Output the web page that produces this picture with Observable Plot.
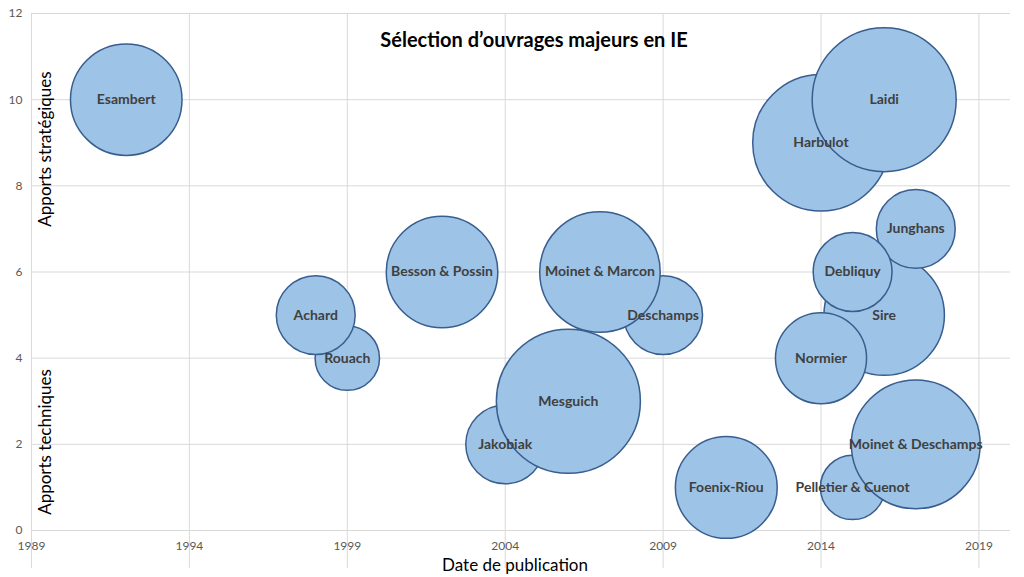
<!DOCTYPE html>
<html>
<head>
<meta charset="utf-8">
<script src="https://cdn.jsdelivr.net/npm/d3@7"></script>
<script src="https://cdn.jsdelivr.net/npm/@observablehq/plot@0.6"></script>
<style>
  html, body { margin: 0; padding: 0; background: #ffffff; }
  #chart svg { display: block; }
</style>
</head>
<body>
<div id="chart"></div>
<script>
// ---- data ----
const names = ["Esambert", "Rouach", "Achard", "Besson & Possin", "Jakobiak", "Mesguich",
  "Deschamps", "Moinet & Marcon", "Foenix-Riou", "Harbulot", "Laidi", "Sire",
  "Junghans", "Debliquy", "Normier", "Pelletier & Cuenot", "Moinet & Deschamps"];
const years = [1992, 1999, 1998, 2002, 2004, 2006, 2009, 2007, 2011, 2014, 2016, 2016,
  2017, 2015, 2014, 2015, 2017];
const scores = [10, 4, 5, 6, 2, 3, 5, 6, 1, 9, 10, 5, 7, 6, 4, 1, 2];
const sizes = [6, 2, 3, 6, 3, 10, 3, 7, 5, 9, 10, 7, 3, 3, 4, 2, 8];

const xTicks = [1989, 1994, 1999, 2004, 2009, 2014, 2019];
const yTicks = [0, 2, 4, 6, 8, 10, 12];

const title = "Sélection d’ouvrages majeurs en IE";
const xLabel = "Date de publication";
const yLabelTop = "Apports stratégiques";
const yLabelBottom = "Apports techniques";

const data = names.map((n, i) => ({name: n, year: years[i], score: scores[i], size: sizes[i]}));

const font = "Lato, 'Open Sans', sans-serif";

const chart = Plot.plot({
  width: 1024,
  height: 577,
  marginTop: 13,
  marginLeft: 31,
  marginRight: 14,
  marginBottom: 47,
  style: {fontFamily: font, background: "#ffffff"},
  x: {domain: [1989, 2020]},
  y: {domain: [0, 12]},
  r: {domain: [0, 10], range: [0, 72]},
  marks: [
    Plot.ruleY(yTicks, {stroke: "#d9d9d9", strokeWidth: 1}),
    Plot.ruleX(xTicks, {stroke: "#d9d9d9", strokeWidth: 1, insetBottom: -38}),
    Plot.axisX({ticks: xTicks, tickSize: 0, tickPadding: 11, label: null, fill: "#595959",
      fontSize: 12, tickFormat: d => String(d)}),
    Plot.axisY({ticks: yTicks, tickSize: 0, tickPadding: 9, label: null, fill: "#595959",
      fontSize: 12}),
    Plot.dot(data, {x: "year", y: "score", r: "size", sort: null, fill: "#9dc3e6", fillOpacity: 1,
      stroke: "#385d8f", strokeWidth: 1.5}),
    Plot.text(data, {x: "year", y: "score", text: "name", fill: "#404040",
      fontWeight: "bold", fontSize: 14}),
    Plot.text([title], {frameAnchor: "top", lineAnchor: "middle", dy: 27, dx: 13, fontSize: 20,
      fontWeight: "bold", fill: "#000000"}),
    Plot.text([xLabel], {frameAnchor: "bottom", lineAnchor: "middle", dy: 35, dx: -6, fontSize: 17,
      fill: "#000000"}),
    Plot.text([yLabelTop], {frameAnchor: "left", textAnchor: "middle", lineAnchor: "middle",
      dx: 14, dy: -123, rotate: -90, fontSize: 17, fill: "#000000"}),
    Plot.text([yLabelBottom], {frameAnchor: "left", textAnchor: "middle", lineAnchor: "middle",
      dx: 14, dy: 170, rotate: -90, fontSize: 17, fill: "#000000"})
  ]
});

document.getElementById("chart").appendChild(chart);
</script>
</body>
</html>
